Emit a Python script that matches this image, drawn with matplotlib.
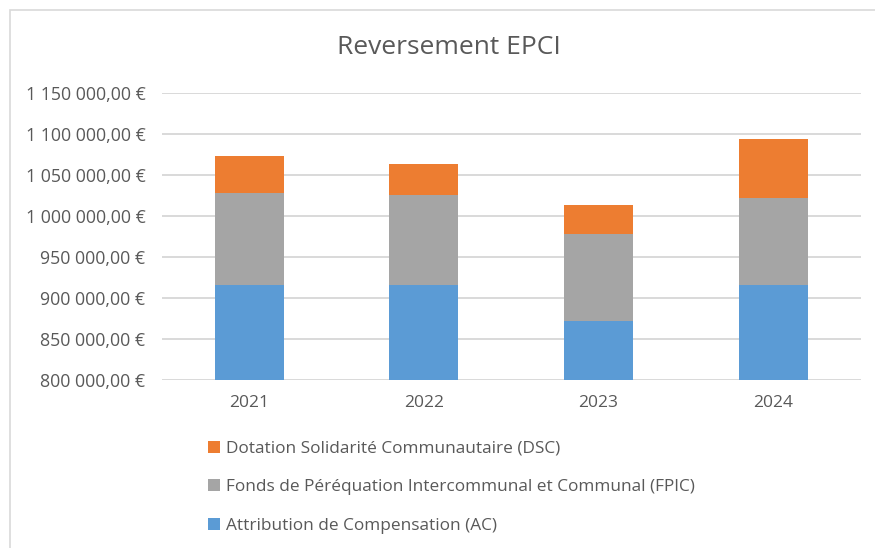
import numpy as np
import matplotlib
matplotlib.use("Agg")
import matplotlib.pyplot as plt
from matplotlib.patches import Rectangle, Patch
from matplotlib.ticker import FuncFormatter, MultipleLocator

plt.rcParams['font.family'] = ['Open Sans', 'DejaVu Sans']

years = ['2021', '2022', '2023', '2024']
ac = [915300, 915700, 871500, 915700]
fpic = [112800, 109300, 106000, 106300]
dsc = [45100, 37700, 35300, 71200]

labels = ['Attribution de Compensation (AC)',
          'Fonds de Péréquation Intercommunal et Communal (FPIC)',
          'Dotation Solidarité Communautaire (DSC)']
colors = ['#5B9BD5', '#A5A5A5', '#ED7D31']

text_col = '#595959'

fig = plt.figure(figsize=(8.75, 5.48), dpi=100)
ax = fig.add_axes([162 / 875, 1 - 380 / 548, 698.5 / 875, (380 - 92.7) / 548])

# light frame around the chart area (cropped on right/bottom)
fig.patches.append(Rectangle((10 / 875, -0.1), 2, 1 - 10 / 548 + 0.1,
                             transform=fig.transFigure, fill=False,
                             edgecolor='#D9D9D9', linewidth=1.2))

x = np.arange(len(years))
bottom = np.zeros(len(years))
for vals, col in zip([ac, fpic, dsc], colors):
    ax.bar(x, vals, width=0.395, bottom=bottom, color=col, zorder=3)
    bottom += np.array(vals)

ax.set_ylim(800000, 1150000)
ax.set_xlim(-0.5, 3.5)
ax.yaxis.set_major_locator(MultipleLocator(50000))


def euro(v, pos):
    s = f"{v:,.2f}".replace(",", " ").replace(".", ",")
    return s + " €"


ax.yaxis.set_major_formatter(FuncFormatter(euro))
ax.set_xticks(x)
ax.set_xticklabels(years)
ax.grid(axis='y', color='#D9D9D9', linewidth=1.4, zorder=0)
ax.set_axisbelow(True)
for s in ax.spines.values():
    s.set_visible(False)
ax.tick_params(axis='both', length=0, colors=text_col)
ax.tick_params(axis='y', pad=12, labelsize=12.8)
ax.tick_params(axis='x', pad=11, labelsize=12.5)

fig.text(449 / 875, 1 - 47 / 548, 'Reversement EPCI', ha='center', va='center',
         fontsize=19, color=text_col)

handles = [Patch(facecolor=c) for c in colors[::-1]]
fig.legend(handles, labels[::-1], loc='upper left',
           bbox_to_anchor=(192 / 875, 1 - 425 / 548), frameon=False,
           fontsize=12.4, handlelength=0.7, handleheight=0.7, handletextpad=0.4,
           labelspacing=1.32, labelcolor=text_col)

fig.savefig('out.png', dpi=100)
